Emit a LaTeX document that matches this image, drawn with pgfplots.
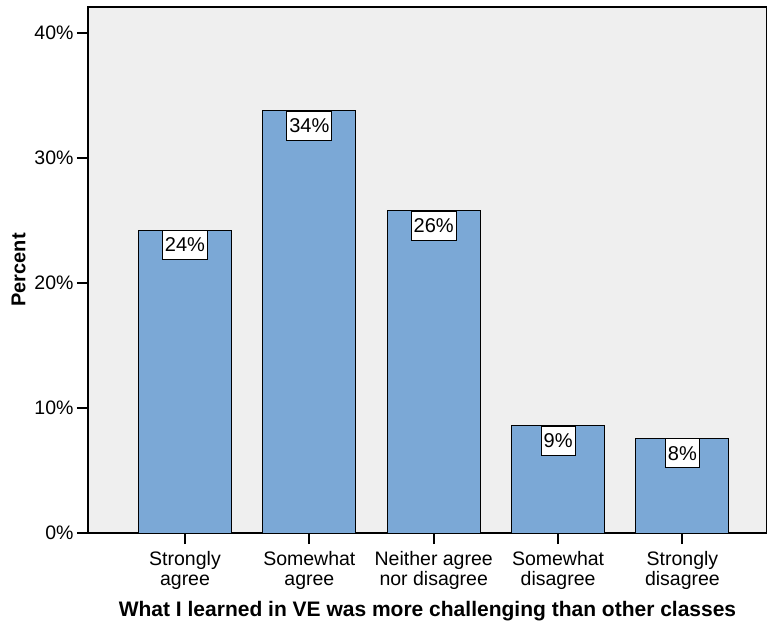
\documentclass[border=0pt]{standalone}
\usepackage{fontspec}
\setmainfont{Liberation Sans}
\usepackage{pgfplots}
\pgfplotsset{compat=1.18}
\definecolor{barblue}{RGB}{123,168,214}
\definecolor{panelgray}{RGB}{239,239,239}

\pgfplotstableread{
x  pct
0  24.25
1  33.8
2  25.8
3  8.57
4  7.59
}\challengedata

\begin{document}
\begin{tikzpicture}
\path[use as bounding box] (0,0) rectangle (767pt,624pt);
\begin{axis}[
  at={(88pt,91pt)}, anchor=south west,
  scale only axis, width=679pt, height=526pt,
  xmin=-0.78, xmax=4.68, ymin=0, ymax=42.1,
  /pgf/number format/assume math mode=true,
  axis background/.style={fill=panelgray},
  axis line style={line width=1.4pt},
  xtick style={line width=2pt, black},
  ytick style={line width=2pt, black},
  tick align=outside, tick pos=left,
  major tick length=11pt,
  xtick=data,
  xticklabels={Strongly\\agree, Somewhat\\agree, Neither agree\\nor disagree, Somewhat\\disagree, Strongly\\disagree},
  xticklabel style={align=center, font=\fontsize{19.5}{20}\selectfont, yshift=-4pt},
  ytick={0,10,20,30,40},
  yticklabels={0\%,10\%,20\%,30\%,40\%},
  yticklabel style={font=\fontsize{19.5}{20}\selectfont},
  xlabel={What I learned in VE was more challenging than other classes},
  xlabel style={font=\fontsize{21}{22}\selectfont\bfseries, yshift=-5pt},
  ylabel={Percent},
  ylabel style={font=\fontsize{20}{20}\selectfont\bfseries, yshift=2pt},
  ybar, bar width=93pt, bar shift=0pt,
]
\addplot[fill=barblue, draw=black, line width=1pt,
  point meta=y,
  nodes near coords={\pgfmathprintnumber[fixed,precision=0,assume math mode=true]{\pgfplotspointmeta}\%},
  every node near coord/.append style={anchor=north, fill=white, draw=black, line width=1pt,
    inner xsep=2.5pt, minimum height=29pt, font=\fontsize{20}{22}\selectfont}]
  table[x=x, y=pct] {\challengedata};
\end{axis}
\end{tikzpicture}
\end{document}
